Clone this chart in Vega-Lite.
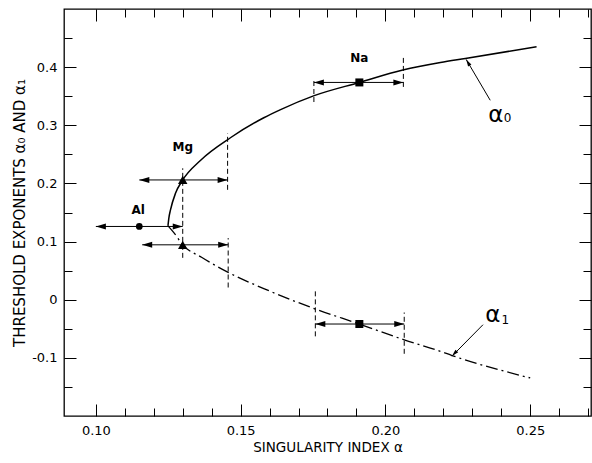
{
  "$schema": "https://vega.github.io/schema/vega-lite/v6.json",
  "width": 527,
  "height": 407,
  "autosize": {"type": "none"},
  "padding": {"left": 64, "top": 9, "right": 1, "bottom": 47},
  "background": "white",
  "config": {
    "view": {"stroke": "black", "strokeWidth": 1.3},
    "axis": {
      "domain": false,
      "grid": false,
      "tickColor": "black",
      "tickWidth": 1,
      "labelColor": "black",
      "labelFont": "DejaVu Sans",
      "labelFontSize": 13,
      "titleColor": "black",
      "titleFont": "DejaVu Sans",
      "titleFontWeight": "normal"
    }
  },
  "datasets": {
    "alpha0": [
      {"x": 0.1249, "y": 0.127}, {"x": 0.1252, "y": 0.140}, {"x": 0.1258, "y": 0.155},
      {"x": 0.1275, "y": 0.183}, {"x": 0.1300, "y": 0.206}, {"x": 0.1362, "y": 0.240},
      {"x": 0.1466, "y": 0.279}, {"x": 0.1580, "y": 0.313}, {"x": 0.1638, "y": 0.327},
      {"x": 0.1754, "y": 0.351}, {"x": 0.1910, "y": 0.3737}, {"x": 0.2060, "y": 0.395},
      {"x": 0.2190, "y": 0.408}, {"x": 0.2276, "y": 0.415}, {"x": 0.2522, "y": 0.435}
    ],
    "alpha1": [
      {"x": 0.1249, "y": 0.127}, {"x": 0.1270, "y": 0.115}, {"x": 0.1300, "y": 0.0944},
      {"x": 0.1365, "y": 0.073}, {"x": 0.1457, "y": 0.047}, {"x": 0.1600, "y": 0.015},
      {"x": 0.1758, "y": -0.016}, {"x": 0.1910, "y": -0.0418}, {"x": 0.2065, "y": -0.0690},
      {"x": 0.2185, "y": -0.0880}, {"x": 0.2230, "y": -0.0960}, {"x": 0.2500, "y": -0.1345}
    ],
    "bars": [
      {"el": "Al", "y": 0.126, "x1": 0.100, "x2": 0.130},
      {"el": "Mg", "y": 0.206, "x1": 0.115, "x2": 0.1455},
      {"el": "Mg", "y": 0.0944, "x1": 0.116, "x2": 0.1457},
      {"el": "Na", "y": 0.3737, "x1": 0.1753, "x2": 0.2062},
      {"el": "Na", "y": -0.0418, "x1": 0.1758, "x2": 0.2065}
    ],
    "dashes": [
      {"x": 0.1300, "y1": 0.072, "y2": 0.226},
      {"x": 0.1455, "y1": 0.189, "y2": 0.286},
      {"x": 0.1457, "y1": 0.021, "y2": 0.106},
      {"x": 0.1753, "y1": 0.340, "y2": 0.381},
      {"x": 0.2062, "y1": 0.366, "y2": 0.418},
      {"x": 0.1758, "y1": -0.063, "y2": 0.017},
      {"x": 0.2065, "y1": -0.093, "y2": -0.022}
    ],
    "markers": [
      {"el": "Al", "x": 0.115, "y": 0.126},
      {"el": "Mg", "x": 0.130, "y": 0.206},
      {"el": "Mg", "x": 0.130, "y": 0.0944},
      {"el": "Na", "x": 0.191, "y": 0.3737},
      {"el": "Na", "x": 0.191, "y": -0.0418}
    ],
    "labels": [
      {"t": "Al", "x": 0.1146, "y": 0.1545},
      {"t": "Mg", "x": 0.1300, "y": 0.2633},
      {"t": "Na", "x": 0.1910, "y": 0.415}
    ],
    "arrows": [
      {"name": "a0", "x": 0.2362, "y": 0.343, "x2": 0.2279, "y2": 0.4132},
      {"name": "a1", "x": 0.2337, "y": -0.043, "x2": 0.2230, "y2": -0.097}
    ],
    "ann": [
      {"kind": "main", "t": "α", "x": 0.2381, "y": 0.3185},
      {"kind": "sub", "t": "0", "x": 0.2422, "y": 0.3124},
      {"kind": "main", "t": "α", "x": 0.2371, "y": -0.0271},
      {"kind": "sub", "t": "1", "x": 0.2414, "y": -0.0343}
    ]
  },
  "layer": [
    {
      "data": {"name": "alpha0"},
      "mark": {"type": "line", "color": "black", "strokeWidth": 1.5, "interpolate": "monotone"},
      "encoding": {
        "x": {"field": "x", "type": "quantitative",
          "scale": {"domain": [0.089, 0.271], "nice": false, "zero": false},
          "axis": {"orient": "bottom", "values": [0.10, 0.15, 0.20, 0.25], "tickSize": -12, "labelPadding": 20,
            "format": ".2f", "title": "SINGULARITY INDEX α", "titleFontSize": 13.5, "titlePadding": 3}},
        "y": {"field": "y", "type": "quantitative",
          "scale": {"domain": [-0.2, 0.5], "nice": false, "zero": false},
          "axis": {"orient": "left", "values": [-0.1, 0, 0.1, 0.2, 0.3, 0.4], "tickSize": -12, "labelPadding": 19,
            "labelExpr": "datum.value == 0 ? '0' : replace(format(datum.value, '.1f'), '−', '-')",
            "title": "THRESHOLD EXPONENTS α₀ AND α₁", "titleFontSize": 15, "titlePadding": 4}}
      }
    },
    {
      "data": {"name": "alpha1"},
      "mark": {"type": "line", "color": "black", "strokeWidth": 1.3, "strokeDash": [12, 4, 2, 4], "interpolate": "monotone"},
      "encoding": {
        "x": {"field": "x", "type": "quantitative",
          "scale": {"domain": [0.089, 0.271], "nice": false, "zero": false},
          "axis": {"orient": "bottom", "values": [0.11, 0.12, 0.13, 0.14, 0.16, 0.17, 0.18, 0.19, 0.21, 0.22, 0.23, 0.24, 0.26, 0.27],
            "tickSize": -8, "labels": false, "title": null}},
        "y": {"field": "y", "type": "quantitative",
          "scale": {"domain": [-0.2, 0.5], "nice": false, "zero": false},
          "axis": {"orient": "left", "values": [-0.15, -0.05, 0.05, 0.15, 0.25, 0.35, 0.45],
            "tickSize": -8, "labels": false, "title": null}}
      }
    },
    {
      "data": {"name": "bars"},
      "mark": {"type": "rule", "color": "black", "strokeWidth": 1},
      "encoding": {
        "x": {"field": "x1", "type": "quantitative",
          "scale": {"domain": [0.089, 0.271], "nice": false, "zero": false},
          "axis": {"orient": "top", "values": [0.10, 0.15, 0.20, 0.25], "tickSize": -12, "labels": false, "title": null}},
        "x2": {"field": "x2"},
        "y": {"field": "y", "type": "quantitative",
          "scale": {"domain": [-0.2, 0.5], "nice": false, "zero": false},
          "axis": {"orient": "right", "values": [-0.1, 0, 0.1, 0.2, 0.3, 0.4], "tickSize": -12, "labels": false, "title": null}}
      }
    },
    {
      "data": {"name": "dashes"},
      "mark": {"type": "rule", "color": "black", "strokeWidth": 1, "strokeDash": [5, 3]},
      "encoding": {
        "x": {"field": "x", "type": "quantitative",
          "scale": {"domain": [0.089, 0.271], "nice": false, "zero": false},
          "axis": {"orient": "top", "values": [0.11, 0.12, 0.13, 0.14, 0.16, 0.17, 0.18, 0.19, 0.21, 0.22, 0.23, 0.24, 0.26, 0.27],
            "tickSize": -8, "labels": false, "title": null}},
        "y": {"field": "y1", "type": "quantitative",
          "scale": {"domain": [-0.2, 0.5], "nice": false, "zero": false},
          "axis": {"orient": "right", "values": [-0.15, -0.05, 0.05, 0.15, 0.25, 0.35, 0.45],
            "tickSize": -8, "labels": false, "title": null}},
        "y2": {"field": "y2"}
      }
    },
    {
      "data": {"name": "bars"},
      "mark": {"type": "point", "shape": "M0,0L2,-0.6L2,0.6Z", "filled": true, "color": "black", "opacity": 1, "size": 100},
      "encoding": {
        "x": {"field": "x1", "type": "quantitative", "axis": null},
        "y": {"field": "y", "type": "quantitative", "axis": null}
      }
    },
    {
      "data": {"name": "bars"},
      "mark": {"type": "point", "shape": "M0,0L-2,-0.6L-2,0.6Z", "filled": true, "color": "black", "opacity": 1, "size": 100},
      "encoding": {
        "x": {"field": "x2", "type": "quantitative", "axis": null},
        "y": {"field": "y", "type": "quantitative", "axis": null}
      }
    },
    {
      "data": {"name": "markers"},
      "transform": [{"filter": "datum.el == 'Al'"}],
      "mark": {"type": "point", "shape": "circle", "filled": true, "color": "black", "opacity": 1, "size": 45},
      "encoding": {
        "x": {"field": "x", "type": "quantitative", "axis": null},
        "y": {"field": "y", "type": "quantitative", "axis": null}
      }
    },
    {
      "data": {"name": "markers"},
      "transform": [{"filter": "datum.el == 'Mg'"}],
      "mark": {"type": "point", "shape": "triangle-up", "filled": true, "color": "black", "opacity": 1, "size": 90},
      "encoding": {
        "x": {"field": "x", "type": "quantitative", "axis": null},
        "y": {"field": "y", "type": "quantitative", "axis": null}
      }
    },
    {
      "data": {"name": "markers"},
      "transform": [{"filter": "datum.el == 'Na'"}],
      "mark": {"type": "point", "shape": "square", "filled": true, "color": "black", "opacity": 1, "size": 64},
      "encoding": {
        "x": {"field": "x", "type": "quantitative", "axis": null},
        "y": {"field": "y", "type": "quantitative", "axis": null}
      }
    },
    {
      "data": {"name": "labels"},
      "mark": {"type": "text", "font": "DejaVu Sans", "fontWeight": "bold", "fontSize": 12, "color": "black", "baseline": "middle", "align": "center"},
      "encoding": {
        "x": {"field": "x", "type": "quantitative", "axis": null},
        "y": {"field": "y", "type": "quantitative", "axis": null},
        "text": {"field": "t"}
      }
    },
    {
      "data": {"name": "arrows"},
      "mark": {"type": "rule", "color": "black", "strokeWidth": 1},
      "encoding": {
        "x": {"field": "x", "type": "quantitative", "axis": null},
        "y": {"field": "y", "type": "quantitative", "axis": null},
        "x2": {"field": "x2"},
        "y2": {"field": "y2"}
      }
    },
    {
      "data": {"name": "arrows"},
      "transform": [{"filter": "datum.name == 'a0'"}],
      "mark": {"type": "point", "shape": "M0,0L-2,-0.55L-2,0.55Z", "filled": true, "color": "black", "opacity": 1, "size": 49, "angle": 239.5},
      "encoding": {
        "x": {"field": "x2", "type": "quantitative", "axis": null},
        "y": {"field": "y2", "type": "quantitative", "axis": null}
      }
    },
    {
      "data": {"name": "arrows"},
      "transform": [{"filter": "datum.name == 'a1'"}],
      "mark": {"type": "point", "shape": "M0,0L-2,-0.55L-2,0.55Z", "filled": true, "color": "black", "opacity": 1, "size": 49, "angle": 133.5},
      "encoding": {
        "x": {"field": "x2", "type": "quantitative", "axis": null},
        "y": {"field": "y2", "type": "quantitative", "axis": null}
      }
    },
    {
      "data": {"name": "ann"},
      "transform": [{"filter": "datum.kind == 'main'"}],
      "mark": {"type": "text", "font": "DejaVu Sans", "fontSize": 23, "color": "black", "baseline": "middle", "align": "center"},
      "encoding": {
        "x": {"field": "x", "type": "quantitative", "axis": null},
        "y": {"field": "y", "type": "quantitative", "axis": null},
        "text": {"field": "t"}
      }
    },
    {
      "data": {"name": "ann"},
      "transform": [{"filter": "datum.kind == 'sub'"}],
      "mark": {"type": "text", "font": "DejaVu Sans", "fontSize": 12, "color": "black", "baseline": "middle", "align": "center"},
      "encoding": {
        "x": {"field": "x", "type": "quantitative", "axis": null},
        "y": {"field": "y", "type": "quantitative", "axis": null},
        "text": {"field": "t"}
      }
    }
  ],
  "resolve": {"axis": {"x": "independent", "y": "independent"}}
}
